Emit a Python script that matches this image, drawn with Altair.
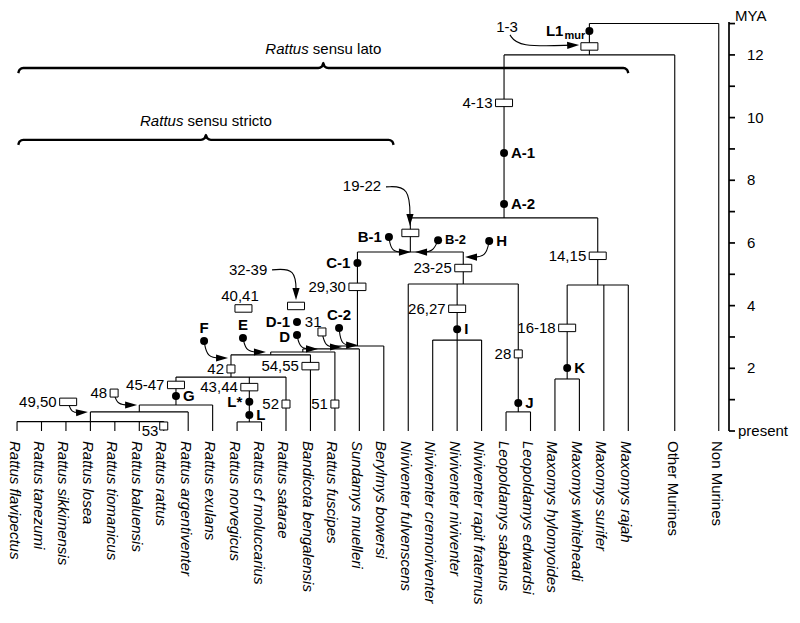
import math
import altair as alt
import pandas as pd

# ------------------------------------------------------------------ data
species = [
    "Rattus flavipectus", "Rattus tanezumi", "Rattus sikkimensis", "Rattus losea",
    "Rattus tiomanicus", "Rattus baluensis", "Rattus rattus", "Rattus argentiventer",
    "Rattus exulans", "Rattus norvegicus", "Rattus  cf moluccarius", "Rattus satarae",
    "Bandicota bengalensis", "Rattus fuscipes", "Sundamys muelleri", "Berylmys bowersi",
    "Niviventer fulvenscens", "Niviventer cremoriventer", "Niviventer niviventer",
    "Niviventer rapit fraternus", "Leopoldamys sabanus", "Leopoldamys edwardsi",
    "Maxomys hylomyoides", "Maxomys whiteheadi", "Maxomys surifer", "Maxomys rajah",
]
outgroups = ["Other Murines", "Non Murines"]

clade_names = ["core", "core_arg", "core_exu", "norv", "rss", "n1", "n2", "n3", "n4",
               "niv", "leo", "nivleo", "B", "maxK", "max", "A", "mur", "root"]
clade_ages = [0.30, 0.61, 0.83, 0.29, 1.72, 2.43, 2.52, 2.62, 2.71,
              2.90, 0.61, 4.69, 5.71, 1.66, 4.66, 6.80, 12.0, 13.0]
clade_children = [
    ["Rattus flavipectus", "Rattus tanezumi", "Rattus sikkimensis", "Rattus losea",
     "Rattus tiomanicus", "Rattus baluensis", "Rattus rattus"],
    ["core", "Rattus argentiventer"],
    ["core_arg", "Rattus exulans"],
    ["Rattus norvegicus", "Rattus  cf moluccarius"],
    ["core_exu", "norv", "Rattus satarae"],
    ["rss", "Bandicota bengalensis"],
    ["n1", "Rattus fuscipes"],
    ["n2", "Sundamys muelleri"],
    ["n3", "Berylmys bowersi"],
    ["Niviventer cremoriventer", "Niviventer niviventer", "Niviventer rapit fraternus"],
    ["Leopoldamys sabanus", "Leopoldamys edwardsi"],
    ["Niviventer fulvenscens", "niv", "leo"],
    ["n4", "nivleo"],
    ["Maxomys hylomyoides", "Maxomys whiteheadi"],
    ["maxK", "Maxomys surifer", "Maxomys rajah"],
    ["B", "max"],
    ["A", "Other Murines"],
    ["mur", "Non Murines"],
]

# boxes sitting on branches
box_labels = ["1-3", "4-13", "19-22", "23-25", "14,15", "26,27", "16-18", "28",
              "29,30", "54,55", "42", "45-47", "43,44", "52", "51", "53"]
box_branch = ["mur", "A", "B", "nivleo", "max", "niv", "maxK", "leo",
              "n4", "Bandicota bengalensis", "rss", "core_exu", "norv",
              "Rattus satarae", "Rattus fuscipes", "Rattus rattus"]
box_ages = [12.27, 10.47, 6.32, 5.20, 5.59, 3.90, 3.29, 2.46,
            4.60, 2.07, 1.98, 1.47, 1.40, 0.86, 0.86, 0.16]
box_wide = [1, 1, 1, 1, 1, 1, 1, 0, 1, 1, 0, 1, 1, 0, 0, 0]

# boxes not on a branch
free_box_labels = ["49,50", "48", "40,41", "32-39", "31"]
free_box_slot = [2.09, 3.97, 9.26, 11.41, 12.47]
free_box_ages = [0.93, 1.21, 3.91, 3.99, 3.16]
free_box_wide = [1, 0, 1, 1, 0]

# dots sitting on branches
dot_labels = ["L1", "A-1", "A-2", "C-1", "G", "L*", "L", "I", "J", "K"]
dot_branch = ["mur", "A", "A", "n4", "core_exu", "norv", "norv", "niv", "leo", "maxK"]
dot_ages = [12.76, 8.87, 7.24, 5.36, 1.12, 0.93, 0.51, 3.25, 0.89, 2.01]

# dots not on a branch
free_dot_labels = ["B-1", "B-2", "H", "C-2", "D-1", "D", "E", "F"]
free_dot_slot = [15.21, 17.22, 19.31, 13.17, 11.45, 11.45, 9.24, 7.65]
free_dot_ages = [6.19, 6.09, 6.06, 3.29, 3.48, 3.06, 2.97, 2.87]

# stand-alone numbers
note_labels = ["1-3", "19-22", "32-39", "40,41", "31", "53"]
note_slot = [20.04, 14.11, 9.45, 9.12, 12.11, 5.44]
note_ages = [12.89, 7.82, 5.14, 4.31, 3.48, 0.0]

# curved arrows: start, bend, tip
arrow_start_slot = [20.16, 15.09, 10.43, 15.21, 17.22, 19.31, 13.17, 12.47, 11.45, 9.24, 7.65, 3.97, 2.09]
arrow_start_age = [12.64, 7.79, 5.14, 6.19, 6.09, 6.06, 3.29, 3.16, 3.06, 2.97, 2.87, 1.21, 0.93]
arrow_bend_slot = [20.49, 16.07, 11.41, 15.30, 17.01, 19.18, 13.25, 12.60, 11.57, 9.37, 7.77, 4.09, 2.21]
arrow_bend_age = [12.25, 7.82, 5.20, 5.71, 5.71, 5.55, 2.74, 2.68, 2.62, 2.52, 2.33, 0.83, 0.57]
arrow_tip_slot = [22.99, 16.07, 11.41, 16.11, 16.28, 18.32, 13.95, 13.29, 12.31, 10.18, 8.63, 4.91, 2.90]
arrow_tip_age = [12.32, 6.54, 4.18, 5.71, 5.71, 5.55, 2.74, 2.68, 2.62, 2.52, 2.33, 0.83, 0.61]

# braces
brace_genus = ["Rattus", "Rattus"]
brace_qualifier = ["sensu lato", "sensu stricto"]
brace_from_slot = [0.05, 0.05]
brace_to_slot = [25.0, 15.4]
brace_ages = [11.58, 9.29]

# time axis
mya_ticks = list(range(14))
mya_labelled = [2, 4, 6, 8, 10, 12]

# ------------------------------------------------------------------ layout
W, H = 721, 409
PXS = 24.45
XDOM = [-0.37, -0.37 + W / PXS]
YDOM = [0.0, 13.05]
PYS = H / (YDOM[1] - YDOM[0])
FONT = "Liberation Sans"


def sx(px):
    return px / PXS


def sy(px):
    return px / PYS


def X(f="x"):
    return alt.X(f"{f}:Q", scale=alt.Scale(domain=XDOM, nice=False, zero=False), axis=None)


def Y(f="y"):
    return alt.Y(f"{f}:Q", scale=alt.Scale(domain=YDOM, nice=False, zero=False), axis=None)


# tree geometry
xpos = {n: float(i) for i, n in enumerate(species)}
xpos["Other Murines"] = 26.9
xpos["Non Murines"] = 28.7
age = {n: 0.0 for n in xpos}
parent = {}
for n, a, kids in zip(clade_names, clade_ages, clade_children):
    xs = [xpos[k] for k in kids]
    xpos[n] = (min(xs) + max(xs)) / 2
    age[n] = a
    for k in kids:
        parent[k] = n

seg = []
for n, kids in zip(clade_names, clade_children):
    xs = [xpos[k] for k in kids]
    seg.append(dict(x=min(xs), x2=max(xs), y=age[n], y2=age[n]))
for k, p in parent.items():
    seg.append(dict(x=xpos[k], x2=xpos[k], y=age[k], y2=age[p]))
seg_df = pd.DataFrame(seg)

# time axis (line + ticks)
axis_rules = [dict(x=XDOM[1], x2=XDOM[1], y=YDOM[0], y2=YDOM[1])]
for t in mya_ticks:
    axis_rules.append(dict(x=XDOM[1], x2=XDOM[1] + sx(6), y=t, y2=t))
axis_df = pd.DataFrame(axis_rules)

# boxes
WIDE = "M-1,-0.44H1V0.44H-1Z"
SMALL = "M-1,-1H1V1H-1Z"
boxes = []
texts = []


def add(x, y, t, size=15, weight="normal", style="normal", align="center",
        baseline="middle", angle=0):
    texts.append(dict(x=x, y=y, text=t, size=size, weight=weight, style=style,
                      align=align, baseline=baseline, angle=angle))


for lab, br, a, w in zip(box_labels, box_branch, box_ages, box_wide):
    x = xpos[br]
    boxes.append(dict(x=x, y=a, shape=WIDE if w else SMALL, size=289 if w else 64))
    if lab not in note_labels:
        hw = 8.5 if w else 4
        add(x - sx(hw + 3), a, lab, align="right")
for lab, s, a, w in zip(free_box_labels, free_box_slot, free_box_ages, free_box_wide):
    boxes.append(dict(x=s, y=a, shape=WIDE if w else SMALL, size=289 if w else 64))
    if lab not in note_labels:
        hw = 8.5 if w else 4
        add(s - sx(hw + 3), a, lab, align="right")
box_df = pd.DataFrame(boxes)

for lab, s, a in zip(note_labels, note_slot, note_ages):
    add(s, a, lab)

# dots
dot_side = {"A-1": "R", "A-2": "R", "C-1": "L", "G": "R", "L*": "L", "L": "R",
            "I": "R", "J": "R", "K": "R", "B-1": "L", "B-2": "R", "H": "R",
            "C-2": "T", "D-1": "L", "D": "L", "E": "T", "F": "T"}
dots = []
dot_pts = [(l, xpos[b], a) for l, b, a in zip(dot_labels, dot_branch, dot_ages)]
dot_pts += list(zip(free_dot_labels, free_dot_slot, free_dot_ages))
for lab, x, a in dot_pts:
    dots.append(dict(x=x, y=a))
    if lab == "L1":
        add(x - sx(26), a - sy(4.5), "L1", weight="bold", align="right", baseline="alphabetic")
        add(x - sx(25), a - sy(7.5), "mur", size=11, weight="bold", align="left",
            baseline="alphabetic")
        continue
    size = 13 if lab == "B-2" else 15
    side = dot_side[lab]
    if side == "R":
        add(x + sx(7), a, lab, size=size, weight="bold", align="left")
    elif side == "L":
        dyy = -sy(2) if lab == "D" else 0
        add(x - sx(7), a + dyy, lab, size=size, weight="bold", align="right")
    else:
        add(x, a + sy(13), lab, size=size, weight="bold", align="center")
dot_df = pd.DataFrame(dots)

# arrows
alines, heads = [], []
for i in range(len(arrow_tip_slot)):
    bx, by = arrow_bend_slot[i], arrow_bend_age[i]
    tx, ty = arrow_tip_slot[i], arrow_tip_age[i]
    dxp = (tx - bx) * PXS
    dyp = -(ty - by) * PYS
    L = math.hypot(dxp, dyp)
    ux, uy = dxp / L, dyp / L
    cx, cy = tx - sx(6 * ux), ty + sy(6 * uy)
    ang = math.degrees(math.atan2(uy, ux)) % 360
    heads.append(dict(x=cx, y=cy, angle=ang))
    pts = [(arrow_start_slot[i], arrow_start_age[i]), (bx, by), (cx, cy)]
    for k, (px, py) in enumerate(pts):
        alines.append(dict(id=i, k=k, x=px, y=py))
aline_df = pd.DataFrame(alines)
head_df = pd.DataFrame(heads)
ARROW = "M1,0L-1,-0.6L-1,0.6Z"

# braces
bpts = []
for i in range(len(brace_genus)):
    x0, x1, yb = brace_from_slot[i], brace_to_slot[i], brace_ages[i]
    xc = (x0 + x1) / 2
    rel = [(x0, 0, 5), (x0, 1.2, 1.8), (x0, 5, 0),
           (xc, -5, 0), (xc, -1.2, -1.8), (xc, 0, -5), (xc, 1.2, -1.8), (xc, 5, 0),
           (x1, -5, 0), (x1, -1.2, 1.8), (x1, 0, 5)]
    for k, (base, dxp, dyp) in enumerate(rel):
        bpts.append(dict(id=i, k=k, x=base + sx(dxp), y=yb - sy(dyp)))
    em = {"R": .722, "a": .556, "t": .278, "u": .556, "s": .5, " ": .278, "e": .556,
          "n": .556, "l": .222, "o": .556, "r": .333, "i": .222, "c": .5}
    wg = sum(em.get(c, .55) for c in brace_genus[i]) * 15
    wq = sum(em.get(c, .55) for c in brace_qualifier[i]) * 15
    start = -(wg + 4.2 + wq) / 2
    ty = yb + sy(19)
    add(xc + sx(start + wg), ty, brace_genus[i], style="italic", align="right")
    add(xc + sx(start + wg + 4.2), ty, brace_qualifier[i], align="left")
brace_df = pd.DataFrame(bpts)

# leaf labels
for n in species:
    add(xpos[n] - sx(2.5), -sy(10), n, style="italic", align="left", angle=90)
for n in outgroups:
    add(xpos[n] - sx(2), -sy(10), n, align="left", angle=90)

# axis labels
for v in mya_labelled:
    add(XDOM[1] + sx(18), v, str(v), align="left")
add(XDOM[1] + sx(9), 0, "present", align="left")
add(XDOM[1] + sx(6), YDOM[1] + sy(6), "MYA", align="left")

# ------------------------------------------------------------------ chart
seg_layer = alt.Chart(seg_df).mark_rule(color="black", strokeWidth=1.1).encode(
    x=X(), x2=alt.X2("x2:Q"), y=Y(), y2=alt.Y2("y2:Q"))

axis_layer = alt.Chart(axis_df).mark_rule(color="black", strokeWidth=1.7).encode(
    x=X(), x2=alt.X2("x2:Q"), y=Y(), y2=alt.Y2("y2:Q"))

brace_layer = alt.Chart(brace_df).mark_line(
    interpolate="monotone", color="black", strokeWidth=2.4).encode(
    x=X(), y=Y(), detail="id:N", order="k:Q")

arrow_layer = alt.Chart(aline_df).mark_line(
    interpolate="basis", color="black", strokeWidth=1.1).encode(
    x=X(), y=Y(), detail="id:N", order="k:Q")

box_layer = alt.Chart(box_df).mark_point(
    filled=True, fill="white", stroke="black", strokeWidth=1, opacity=1).encode(
    x=X(), y=Y(), shape=alt.Shape("shape:N", scale=None),
    size=alt.Size("size:Q", scale=None))

dot_layer = alt.Chart(dot_df).mark_circle(size=64, color="black", opacity=1).encode(
    x=X(), y=Y())

head_layer = alt.Chart(head_df).mark_point(
    shape=ARROW, size=144, filled=True, color="black", opacity=1).encode(
    x=X(), y=Y(), angle=alt.Angle("angle:Q", scale=None))

tdf = pd.DataFrame(texts)
text_layers = []
for key, g in tdf.groupby(["size", "weight", "style", "align", "baseline", "angle"]):
    size, weight, style, align, baseline, angle = key
    text_layers.append(
        alt.Chart(g[["x", "y", "text"]].reset_index(drop=True)).mark_text(
            font=FONT, fontSize=float(size), fontWeight=str(weight), fontStyle=str(style),
            align=str(align), baseline=str(baseline), angle=float(angle), color="black"
        ).encode(x=X(), y=Y(), text="text:N"))

chart = alt.layer(seg_layer, axis_layer, brace_layer, arrow_layer, box_layer, dot_layer,
                  head_layer, *text_layers).properties(
    width=W, height=H,
    autosize=alt.AutoSizeParams(type="none"),
    padding={"left": 0, "top": 14, "right": 63, "bottom": 184},
).configure_view(stroke=None)

chart.save("out.html", embed_options={"renderer": "svg", "actions": False})
